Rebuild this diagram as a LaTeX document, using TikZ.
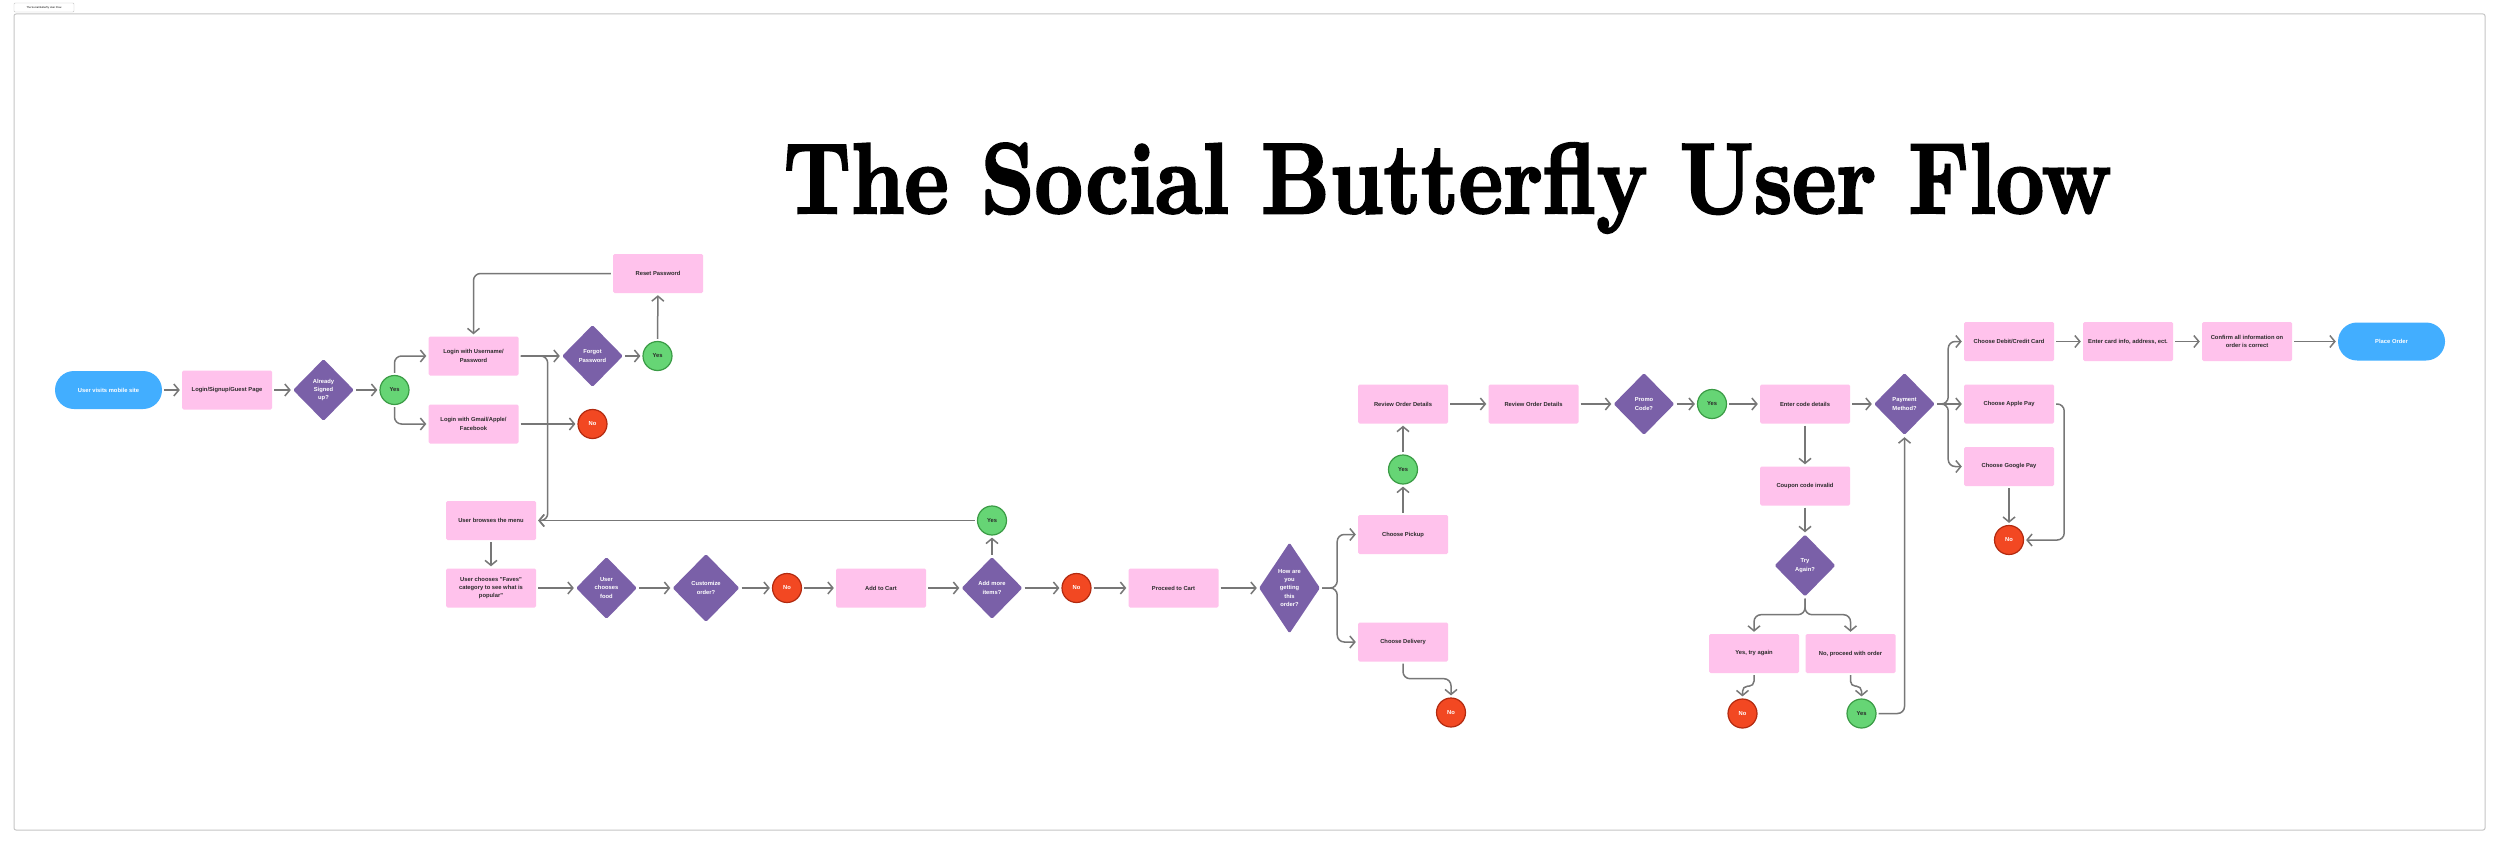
\documentclass[tikz,border=0pt]{standalone}
\usepackage{fontspec}
\newfontfamily\uifont{Liberation Sans}
\newfontfamily\titlefont[FakeBold=2.5]{lmroman10-bold.otf}
\usetikzlibrary{shapes.geometric,arrows.meta}

\definecolor{boxpink}{HTML}{FFC2EC}
\definecolor{askpurple}{HTML}{7A60A8}
\definecolor{okgreen}{HTML}{66D575}
\definecolor{okedge}{HTML}{3A9B45}
\definecolor{nored}{HTML}{F24822}
\definecolor{noedge}{HTML}{B22A10}
\definecolor{pillblue}{HTML}{42AEFF}
\definecolor{linegray}{HTML}{777777}
\definecolor{framegray}{HTML}{C6C6C6}
\definecolor{inkdark}{HTML}{2B2B2B}

\begin{document}
\begin{tikzpicture}[x=1pt,y=-1pt,
  txt/.style={font=\uifont\bfseries\fontsize{5.8}{8.4}\selectfont,align=center},
  stepbox/.style={txt,rectangle,fill=boxpink,rounded corners=1.5pt,minimum width=90pt,minimum height=39pt,inner sep=1pt,text=inkdark},
  pill/.style={txt,rectangle,fill=pillblue,rounded corners=19pt,minimum width=107pt,minimum height=38pt,text=white},
  ask/.style={txt,diamond,fill=askpurple,rounded corners=1.5pt,inner sep=0pt,minimum width=61pt,minimum height=62pt,text=white},
  yesdot/.style={txt,circle,fill=okgreen,draw=okedge,line width=1.2pt,minimum size=29pt,inner sep=0pt,text=inkdark},
  nodot/.style={txt,circle,fill=nored,draw=noedge,line width=1.2pt,minimum size=29pt,inner sep=0pt,text=white},
  flow/.style={draw=linegray,line width=1.5pt,rounded corners=7pt,-{Straight Barb[length=5pt,width=12pt]},shorten >=2pt,shorten <=2pt}]

% page and frame
\fill[white] (0,0) rectangle (2500,845);
\useasboundingbox (0,0) rectangle (2500,845);
\draw[framegray,line width=1pt,rounded corners=2pt] (14,14) rectangle (2485,830);
\node[draw=framegray,rounded corners=1pt,font=\uifont\fontsize{2.6}{3}\selectfont,minimum width=60pt,minimum height=9pt,inner sep=0pt] (tab) at (44,7.5) {The Social Butterfly User Flow};

% title
\node[anchor=base,inner sep=0pt,font=\titlefont\fontsize{100}{100}\selectfont] (title) at (1447.5,213) {\scalebox{0.84}[1]{The Social Butterfly User Flow}};

% login part
\node[pill] (start) at (108.5,390) {User visits mobile site};
\node[stepbox] (landing) at (227,390) {Login/Signup/Guest Page};
\node[ask] (signed) at (323.5,390) {Already\\Signed\\up?};
\node[yesdot] (yesSigned) at (394.5,390) {Yes};
\node[stepbox] (loginpw) at (473.5,356) {Login with Username/\\Password};
\node[stepbox] (loginsoc) at (473.5,424) {Login with Gmail/Apple/\\Facebook};
\node[ask] (forgot) at (592.5,356) {Forgot\\Password};
\node[yesdot] (yesForgot) at (657.5,356) {Yes};
\node[stepbox] (reset) at (658,273.5) {Reset Password};
\node[nodot] (noSoc) at (592.5,424) {No};

\draw[flow] (start) -- (landing);
\draw[flow] (landing) -- (signed);
\draw[flow] (signed) -- (yesSigned);
\draw[flow] (yesSigned.north) |- (loginpw.west);
\draw[flow] (yesSigned.south) |- (loginsoc.west);
\draw[flow] (loginpw.east) -- (forgot.west);
\draw[flow] (forgot) -- (yesForgot);
\draw[flow] (yesForgot) -- (reset);
\draw[flow] (reset.west) -| (loginpw.north);
\draw[flow] (loginsoc.east) -- (noSoc.west);

% menu and cart
\node[stepbox] (browse) at (491,520.5) {User browses the menu};
\node[stepbox] (faves) at (491,588) {User chooses "Faves"\\category to see what is\\popular"};
\node[ask] (food) at (606.5,588) {User\\chooses\\food};
\node[ask,minimum width=67pt,minimum height=68pt] (custom) at (706,588) {Customize\\order?};
\node[nodot] (noCustom) at (787,588) {No};
\node[stepbox] (cart) at (881,588) {Add to Cart};
\node[ask] (more) at (992,588) {Add more\\items?};
\node[yesdot] (yesMore) at (992,520.5) {Yes};
\node[nodot] (noMore) at (1076.5,588) {No};
\node[stepbox] (proceed) at (1173.5,588) {Proceed to Cart};
\node[ask,minimum height=91pt,aspect=0.67] (how) at (1289.5,588) {How are\\you\\getting\\this\\order?};

\draw[flow] (loginpw.east) -- ++(29,0) |- (browse.east);
\draw[flow] (browse) -- (faves);
\draw[flow] (faves) -- (food);
\draw[flow] (food) -- (custom);
\draw[flow] (custom) -- (noCustom);
\draw[flow] (noCustom) -- (cart);
\draw[flow] (cart) -- (more);
\draw[flow] (more) -- (noMore);
\draw[flow] (noMore) -- (proceed);
\draw[flow] (proceed) -- (how);
\draw[flow] (more) -- (yesMore);
\draw[flow] (yesMore.west) -- (browse.east);

% pickup or delivery
\node[stepbox] (pickup) at (1403,534.5) {Choose Pickup};
\node[stepbox] (delivery) at (1403,642) {Choose Delivery};
\node[nodot] (noDelivery) at (1451,712.5) {No};
\node[yesdot] (yesPickup) at (1403,469.5) {Yes};
\node[stepbox] (review) at (1403,404) {Review Order Details};
\node[stepbox] (reviewtwo) at (1533.5,404) {Review Order Details};
\node[ask] (promo) at (1644,404) {Promo\\Code?};
\node[yesdot] (yesPromo) at (1712,404) {Yes};

\draw[flow] (how.east) -- ++(17,0) |- (pickup.west);
\draw[flow] (how.east) -- ++(17,0) |- (delivery.west);
\draw[flow] (delivery.south) -- ++(0,17) -| (noDelivery.north);
\draw[flow] (pickup) -- (yesPickup);
\draw[flow] (yesPickup) -- (review);
\draw[flow] (review) -- (reviewtwo);
\draw[flow] (reviewtwo) -- (promo);
\draw[flow] (promo) -- (yesPromo);

% promo code
\node[stepbox] (entercode) at (1805,404) {Enter code details};
\node[stepbox] (coupon) at (1805,486) {Coupon code invalid};
\node[ask] (again) at (1805,565.5) {Try\\Again?};
\node[stepbox] (retry) at (1754,653.5) {Yes, try again};
\node[stepbox] (skip) at (1850.5,653.5) {No, proceed with order};
\node[nodot] (noRetry) at (1742.5,713.5) {No};
\node[yesdot] (yesSkip) at (1861.5,713.5) {Yes};

\draw[flow] (yesPromo) -- (entercode);
\draw[flow] (entercode) -- (coupon);
\draw[flow] (coupon) -- (again);
\draw[flow] (again.south) -- ++(0,18) -| (retry.north);
\draw[flow] (again.south) -- ++(0,18) -| (skip.north);
\draw[flow,rounded corners=5pt] (retry.south) -- ++(0,13) -| (noRetry.north);
\draw[flow,rounded corners=5pt] (skip.south) -- ++(0,13) -| (yesSkip.north);

% payment
\node[ask] (payment) at (1904.5,404) {Payment\\Method?};
\node[stepbox] (card) at (2009,341.5) {Choose Debit/Credit Card};
\node[stepbox] (apple) at (2009,404) {Choose Apple Pay};
\node[stepbox] (google) at (2009,466.5) {Choose Google Pay};
\node[nodot] (noPay) at (2009,540) {No};
\node[stepbox] (cardinfo) at (2128,341.5) {Enter card info, address, ect.};
\node[stepbox] (confirm) at (2247,341.5) {Confirm all information on\\order is correct};
\node[pill] (place) at (2391.5,341.5) {Place Order};

\draw[flow] (entercode) -- (payment);
\draw[flow] (yesSkip.east) -| (payment.south);
\draw[flow] (payment.east) -- ++(13,0) |- (card.west);
\draw[flow] (payment.east) -- (apple.west);
\draw[flow] (payment.east) -- ++(13,0) |- (google.west);
\draw[flow] (google) -- (noPay);
\draw[flow] (apple.east) -- ++(10,0) |- (noPay.east);
\draw[flow] (card) -- (cardinfo);
\draw[flow] (cardinfo) -- (confirm);
\draw[flow] (confirm) -- (place);

\end{tikzpicture}
\end{document}
